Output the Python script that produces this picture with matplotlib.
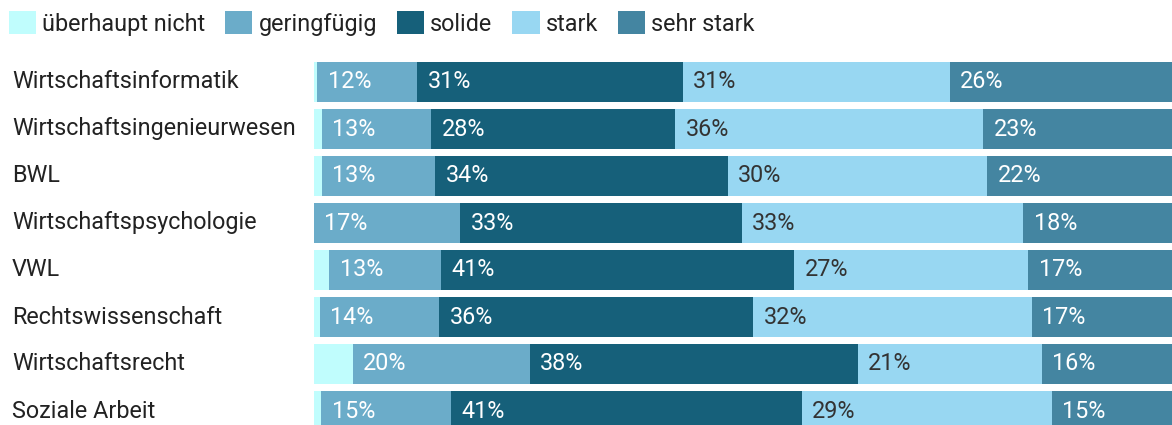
import numpy as np
import matplotlib.pyplot as plt
import matplotlib.transforms as mtransforms
from matplotlib.patches import Patch

plt.rcParams['font.family'] = ['Roboto', 'DejaVu Sans']

studiengaenge = ["Wirtschaftsinformatik", "Wirtschaftsingenieurwesen", "BWL",
                 "Wirtschaftspsychologie", "VWL", "Rechtswissenschaft",
                 "Wirtschaftsrecht", "Soziale Arbeit"]
stufen = ["überhaupt nicht", "geringfügig", "solide", "stark", "sehr stark"]

# Anteile in Prozent je Studiengang
ueberhaupt_nicht = [0.38, 0.89, 0.89, 0.0, 1.77, 0.66, 4.47, 0.84]
geringfuegig = [11.56, 12.64, 13.10, 16.90, 12.88, 13.79, 20.45, 14.96]
solide = [30.68, 28.21, 33.84, 32.55, 40.84, 36.30, 37.95, 40.61]
stark = [30.90, 35.64, 30.01, 32.55, 27.09, 32.25, 21.24, 28.87]
sehr_stark = [26.48, 22.62, 22.16, 18.00, 17.42, 17.00, 15.89, 14.72]

farben = ["#c0fdfd", "#6bacc9", "#16607a", "#98d7f2", "#4485a1"]
textfarben = ["#ffffff", "#ffffff", "#ffffff", "#333333", "#ffffff"]

werte = np.array([ueberhaupt_nicht, geringfuegig, solide, stark, sehr_stark])

W, H = 1172, 425
fig = plt.figure(figsize=(W / 100, H / 100), dpi=100)
ax = fig.add_axes([314 / W, 0, 1 - 314 / W, 1])

y = np.arange(len(studiengaenge))
links = np.zeros(len(studiengaenge))
for k, stufe in enumerate(stufen):
    ax.barh(y, werte[k], left=links, height=0.838, color=farben[k],
            linewidth=0, label=stufe)
    for i in range(len(studiengaenge)):
        v = werte[k][i]
        if v >= 5:
            ax.annotate(f"{v:.0f}%", xy=(links[i], y[i]), xytext=(7.5, 0),
                        textcoords="offset points", ha="left", va="center",
                        fontsize=16.8, color=textfarben[k])
    links += werte[k]

ax.set_xlim(0, 858 / 8.65)
ax.set_ylim(343 / 47, -82 / 47)
ax.axis("off")

# Studiengang-Beschriftungen links
trans = mtransforms.blended_transform_factory(fig.transFigure, ax.transData)
for i, name in enumerate(studiengaenge):
    ax.text(12 / W, y[i], name, transform=trans, ha="left", va="center",
            fontsize=16.8, color="#222222")

handles = [Patch(facecolor=c, edgecolor="none") for c in farben]
fig.legend(handles, stufen, loc="center left", bbox_to_anchor=(9 / W, 1 - 23.4 / H),
           ncol=5, frameon=False, fontsize=16.8, handlelength=1.16, handleheight=1.16,
           handletextpad=0.26, columnspacing=0.86, borderpad=0, borderaxespad=0,
           labelcolor="#222222")

fig.savefig("out.png", dpi=100)
